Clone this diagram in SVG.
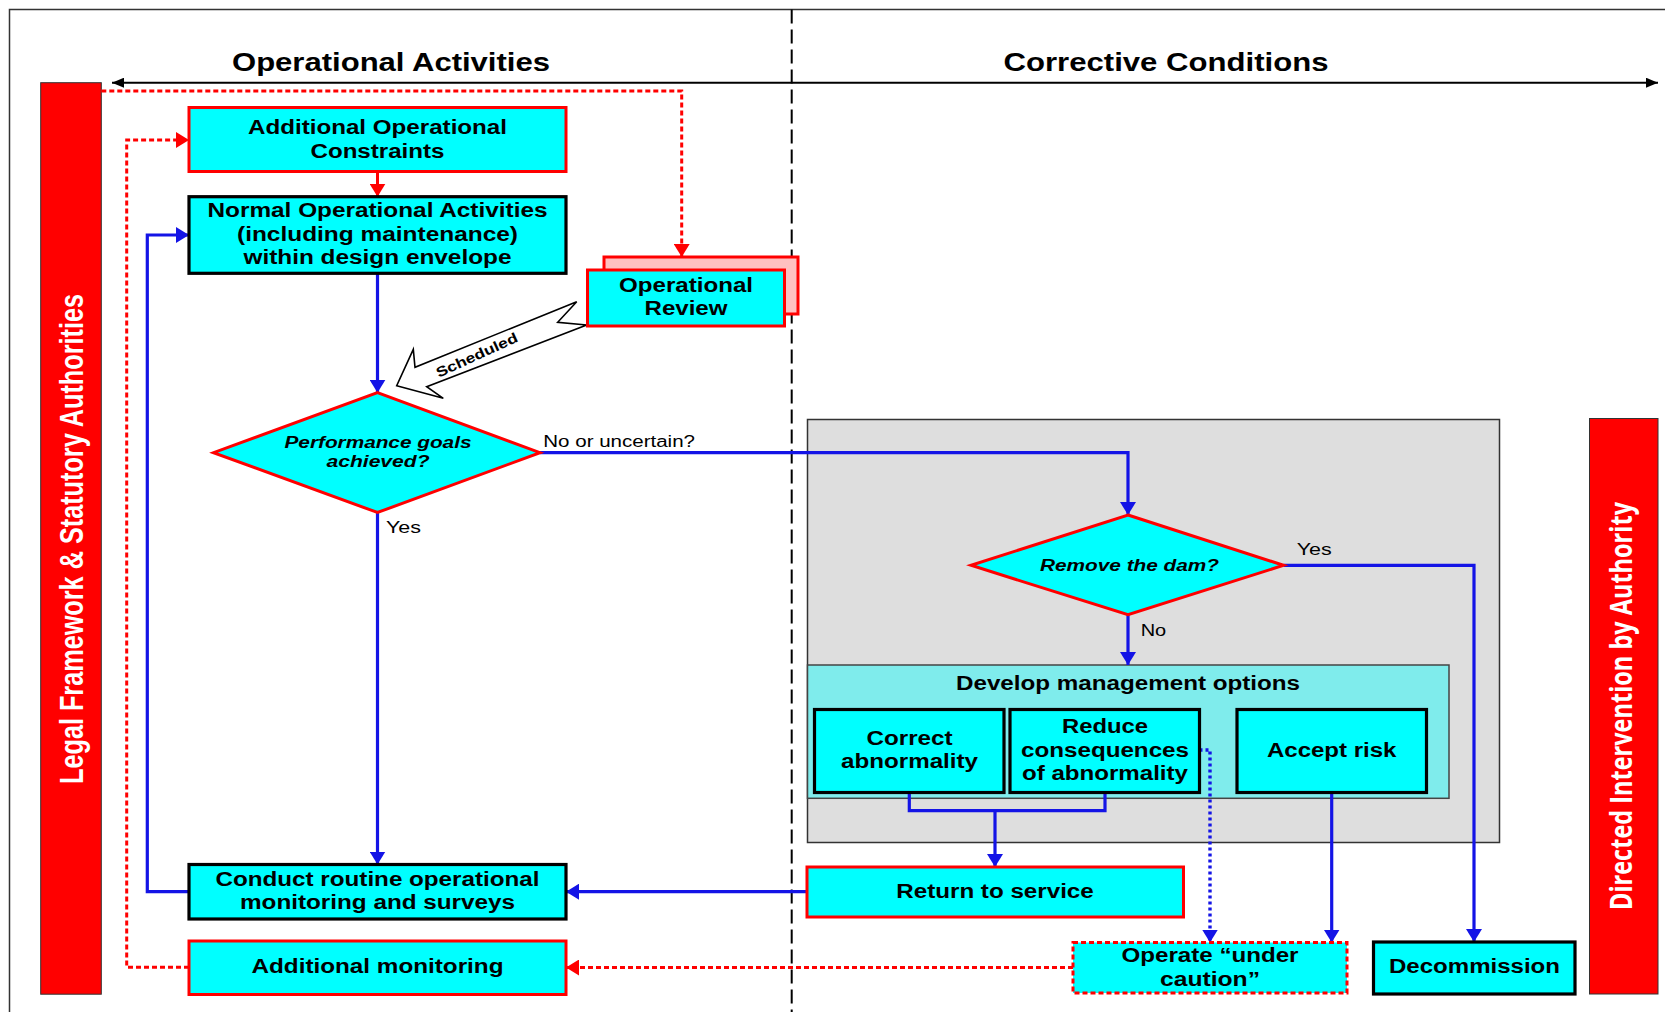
<svg xmlns="http://www.w3.org/2000/svg" width="1665" height="1012" viewBox="0 0 1665 1012">
  <style>
    .txt { font-family: "Liberation Sans", Arial, sans-serif; fill: #000; }
    .title { font-size: 26px; font-weight: bold; text-anchor: middle; }
    .box { font-size: 19.5px; font-weight: bold; text-anchor: middle; }
    .q { font-size: 16px; font-weight: bold; font-style: italic; text-anchor: middle; }
    .lbl { font-size: 16px; }
    .cyan-red { fill: #00ffff; stroke: #ff0000; stroke-width: 3; }
    .cyan-blk { fill: #00ffff; stroke: #000; stroke-width: 3.2; }
    .blue { fill: none; stroke: #1414e6; stroke-width: 3.2; }
    .blue-dot { fill: none; stroke: #1414e6; stroke-width: 3.4; stroke-dasharray: 3 3; }
    .red-dash { fill: none; stroke: #ff0000; stroke-width: 3; stroke-dasharray: 5 3; }
    .bar { fill: #ff0000; stroke: #333; stroke-width: 1; }
    .bartxt { fill: #fff; text-anchor: middle; }
  </style>
  <defs>
    <marker id="ab" markerUnits="userSpaceOnUse" markerWidth="13" markerHeight="16" refX="13" refY="8" orient="auto">
      <path d="M0,0 L13,8 L0,16 z" fill="#1414e6"/>
    </marker>
    <marker id="ar" markerUnits="userSpaceOnUse" markerWidth="13" markerHeight="16" refX="13" refY="8" orient="auto">
      <path d="M0,0 L13,8 L0,16 z" fill="#ff0000"/>
    </marker>
    <marker id="ak" markerUnits="userSpaceOnUse" markerWidth="12" markerHeight="10" refX="12" refY="5" orient="auto-start-reverse">
      <path d="M0,0 L12,5 L0,10 z" fill="#000"/>
    </marker>
  </defs>

  <rect width="1665" height="1012" fill="#fff"/>

  <!-- frame and swimlane divider -->
  <g id="frame">
    <path d="M9.5,1012 V9.5 H1665" fill="none" stroke="#333" stroke-width="1.5"/>
    <line x1="791.7" y1="9.5" x2="791.7" y2="1012" stroke="#000" stroke-width="2" stroke-dasharray="14 6"/>
    <line x1="112" y1="82.7" x2="1658" y2="82.7" stroke="#000" stroke-width="2" marker-start="url(#ak)" marker-end="url(#ak)"/>
    <text class="txt title" x="391" y="70.7" textLength="318" lengthAdjust="spacingAndGlyphs">Operational Activities</text>
    <text class="txt title" x="1166" y="70.7" textLength="325" lengthAdjust="spacingAndGlyphs">Corrective Conditions</text>
  </g>

  <!-- side authority bars -->
  <g id="legal-framework">
    <rect class="bar" x="40.7" y="82.7" width="60.6" height="911.5"/>
    <text class="bartxt" transform="translate(83,539) scale(1.25,1) rotate(-90)" font-family="Liberation Sans, Arial, sans-serif" font-weight="bold" font-size="27" textLength="490" lengthAdjust="spacingAndGlyphs">Legal Framework &amp; Statutory Authorities</text>
  </g>
  <g id="directed-intervention">
    <rect class="bar" x="1589.5" y="418.5" width="68.5" height="575.5"/>
    <text class="bartxt" transform="translate(1632,706) scale(1.25,1) rotate(-90)" font-family="Open Sans, sans-serif" font-weight="bold" font-size="24" textLength="408" lengthAdjust="spacingAndGlyphs">Directed Intervention by Authority</text>
  </g>

  <!-- corrective conditions containers -->
  <g id="corrective-area">
    <rect x="807.5" y="419.5" width="692" height="423" fill="#dedede" stroke="#333" stroke-width="1.5"/>
  </g>
  <g id="develop-options">
    <rect x="807.5" y="665" width="641.5" height="133.3" fill="#7fecec" stroke="#444" stroke-width="1.5"/>
    <text class="txt box" x="1128" y="690" textLength="344" lengthAdjust="spacingAndGlyphs">Develop management options</text>
  </g>

  <!-- connectors -->
  <g id="connectors">
    <path class="red-dash" d="M101.3,91 H681.7 V257" marker-end="url(#ar)"/>
    <path class="red-dash" d="M189,967.3 H126.7 V140 H189" marker-end="url(#ar)"/>
    <path class="red-dash" d="M1073,967.5 H566" marker-end="url(#ar)"/>
    <path d="M377.5,171.5 V196.7" fill="none" stroke="#ff0000" stroke-width="3" marker-end="url(#ar)"/>
    <path class="blue" d="M377.5,273.3 V392.7" marker-end="url(#ab)"/>
    <path class="blue" d="M377.5,512.5 V864.5" marker-end="url(#ab)"/>
    <path class="blue" d="M540,452.7 H1128 V515" marker-end="url(#ab)"/>
    <path class="blue" d="M1283.5,565.3 H1474 V942" marker-end="url(#ab)"/>
    <path class="blue" d="M1128,614.8 V665" marker-end="url(#ab)"/>
    <path class="blue" d="M909.3,792.7 V810.7 H1105 V792.7"/>
    <path class="blue" d="M995,810.7 V867" marker-end="url(#ab)"/>
    <path class="blue" d="M807,891.7 H566" marker-end="url(#ab)"/>
    <path class="blue" d="M189,891.7 H147.3 V235 H189" marker-end="url(#ab)"/>
    <path class="blue-dot" d="M1199.5,750 H1210 V942.5" marker-end="url(#ab)"/>
    <path class="blue" d="M1331.7,792.7 V942.5" marker-end="url(#ab)"/>
    <!-- scheduled review trigger -->
    <polygon points="576.7,301.7 415,367.3 413.3,349.3 396.7,385.7 443.3,398.3 426.7,386.7 586.7,325 557.7,322.3" fill="#fff" stroke="#000" stroke-width="1.6" stroke-linejoin="miter"/>
    <text class="txt" transform="translate(478.8,359.5) rotate(-24.6)" font-size="14" font-weight="bold" text-anchor="middle" textLength="88" lengthAdjust="spacingAndGlyphs">Scheduled</text>
    <text class="txt lbl" x="543.3" y="446.7" textLength="151.7" lengthAdjust="spacingAndGlyphs">No or uncertain?</text>
    <text class="txt lbl" x="386" y="532.7" textLength="35" lengthAdjust="spacingAndGlyphs">Yes</text>
    <text class="txt lbl" x="1296.7" y="555" textLength="35" lengthAdjust="spacingAndGlyphs">Yes</text>
    <text class="txt lbl" x="1140.7" y="636" textLength="25.5" lengthAdjust="spacingAndGlyphs">No</text>
  </g>

  <!-- nodes -->
  <g id="additional-constraints">
    <rect class="cyan-red" x="189" y="107.5" width="377" height="64"/>
    <text class="txt box" x="377.5" y="134" textLength="259" lengthAdjust="spacingAndGlyphs">Additional Operational</text>
    <text class="txt box" x="377.5" y="157.7" textLength="134" lengthAdjust="spacingAndGlyphs">Constraints</text>
  </g>
  <g id="normal-activities">
    <rect class="cyan-blk" x="189" y="196.7" width="377" height="76.6"/>
    <text class="txt box" x="377.5" y="217.3" textLength="340" lengthAdjust="spacingAndGlyphs">Normal Operational Activities</text>
    <text class="txt box" x="377.5" y="240.7" textLength="281" lengthAdjust="spacingAndGlyphs">(including maintenance)</text>
    <text class="txt box" x="377.5" y="264" textLength="268" lengthAdjust="spacingAndGlyphs">within design envelope</text>
  </g>
  <g id="operational-review">
    <rect x="604" y="257" width="194" height="57" fill="#ffc0c0" stroke="#ff0000" stroke-width="3"/>
    <rect class="cyan-red" x="587.5" y="270" width="197" height="56"/>
    <text class="txt box" x="686" y="291.7" textLength="134" lengthAdjust="spacingAndGlyphs">Operational</text>
    <text class="txt box" x="686" y="315" textLength="83" lengthAdjust="spacingAndGlyphs">Review</text>
  </g>
  <g id="performance-goals">
    <polygon class="cyan-red" points="377.5,392.7 540,452.7 377.5,512.5 213.5,452.7"/>
    <text class="txt q" x="378" y="447.7" textLength="187" lengthAdjust="spacingAndGlyphs">Performance goals</text>
    <text class="txt q" x="378" y="467.3" textLength="103" lengthAdjust="spacingAndGlyphs">achieved?</text>
  </g>
  <g id="routine-monitoring">
    <rect class="cyan-blk" x="189" y="864.5" width="377" height="54.5"/>
    <text class="txt box" x="377.5" y="886" textLength="324" lengthAdjust="spacingAndGlyphs">Conduct routine operational</text>
    <text class="txt box" x="377.5" y="909.3" textLength="275" lengthAdjust="spacingAndGlyphs">monitoring and surveys</text>
  </g>
  <g id="additional-monitoring">
    <rect class="cyan-red" x="189" y="941" width="377" height="53.5"/>
    <text class="txt box" x="377.5" y="973.3" textLength="252" lengthAdjust="spacingAndGlyphs">Additional monitoring</text>
  </g>
  <g id="remove-dam">
    <polygon class="cyan-red" points="1128,515 1283.5,565.3 1128,614.8 971,565.3"/>
    <text class="txt q" x="1129.5" y="571" font-size="16.5" textLength="179" lengthAdjust="spacingAndGlyphs">Remove the dam?</text>
  </g>
  <g id="correct-abnormality">
    <rect class="cyan-blk" x="814.5" y="709.5" width="189.5" height="83"/>
    <text class="txt box" x="909.5" y="745.3" textLength="86" lengthAdjust="spacingAndGlyphs">Correct</text>
    <text class="txt box" x="909.5" y="768.3" textLength="137" lengthAdjust="spacingAndGlyphs">abnormality</text>
  </g>
  <g id="reduce-consequences">
    <rect class="cyan-blk" x="1010" y="709.5" width="189.5" height="83"/>
    <text class="txt box" x="1105" y="733.3" textLength="86" lengthAdjust="spacingAndGlyphs">Reduce</text>
    <text class="txt box" x="1105" y="757.3" textLength="168" lengthAdjust="spacingAndGlyphs">consequences</text>
    <text class="txt box" x="1105" y="780" textLength="166" lengthAdjust="spacingAndGlyphs">of abnormality</text>
  </g>
  <g id="accept-risk">
    <rect class="cyan-blk" x="1237" y="709.5" width="189.5" height="83"/>
    <text class="txt box" x="1331.7" y="757.3" textLength="129.5" lengthAdjust="spacingAndGlyphs">Accept risk</text>
  </g>
  <g id="return-to-service">
    <rect class="cyan-red" x="807" y="867" width="376.5" height="50"/>
    <text class="txt box" x="995" y="898.3" textLength="197.5" lengthAdjust="spacingAndGlyphs">Return to service</text>
  </g>
  <g id="operate-under-caution">
    <rect x="1073" y="942.5" width="274" height="50.5" fill="#00ffff" stroke="#ff0000" stroke-width="3" stroke-dasharray="5 3"/>
    <text class="txt box" x="1210" y="962" textLength="177" lengthAdjust="spacingAndGlyphs">Operate “under</text>
    <text class="txt box" x="1210" y="986" textLength="100" lengthAdjust="spacingAndGlyphs">caution”</text>
  </g>
  <g id="decommission">
    <rect class="cyan-blk" x="1373.5" y="942" width="201.5" height="52"/>
    <text class="txt box" x="1474.5" y="973.3" textLength="171" lengthAdjust="spacingAndGlyphs">Decommission</text>
  </g>
</svg>
